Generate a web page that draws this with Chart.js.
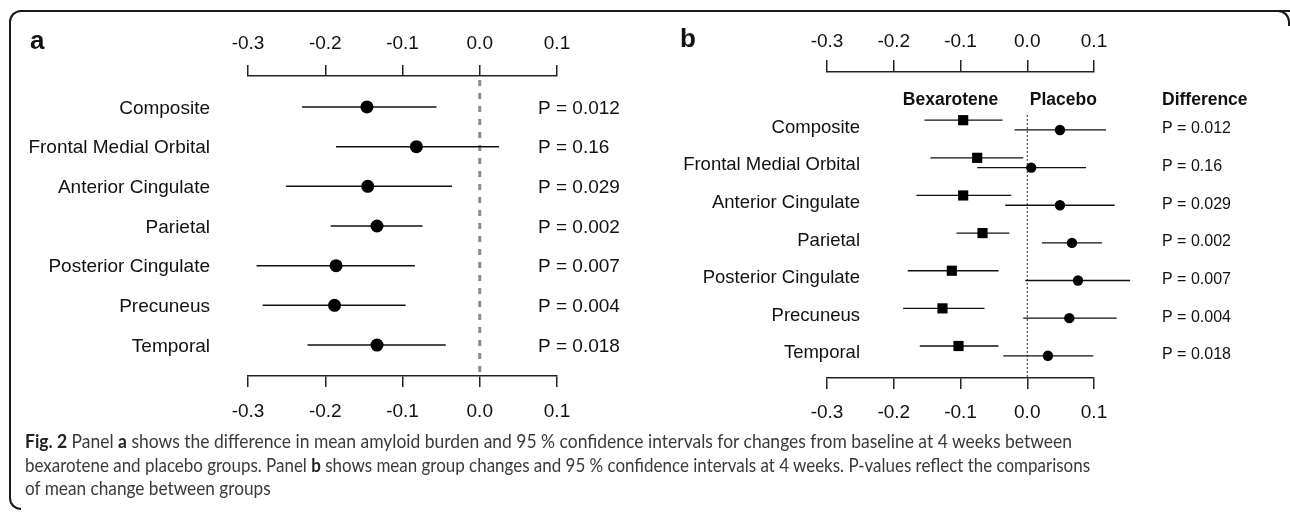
<!DOCTYPE html>
<html>
<head>
<meta charset="utf-8">
<script src="https://cdn.jsdelivr.net/npm/chart.js@4.4.1/dist/chart.umd.min.js"></script>
<style>
  body { margin: 0; width: 1290px; height: 513px; background: #fff; overflow: hidden; position: relative; }
  canvas { position: absolute; top: 0; }
  #chartA { left: 0; }
  #chartB { left: 640px; }
  .edge { position: absolute; border-color: #1a1a1a; border-style: solid; border-width: 0; }
  #frame { left: 9px; top: 10px; width: 1300px; height: 486px; border-left-width: 2px; border-top-width: 2px; border-top-left-radius: 12px; }
  #cornerTR { left: 1276px; top: 10px; width: 12px; height: 14px; border-top-width: 2px; border-right-width: 2px; border-top-right-radius: 12px; }
  #cornerBL { left: 9px; top: 494px; width: 10px; height: 14px; border-left-width: 2px; border-bottom-width: 2px; border-bottom-left-radius: 12px; }
  #caption { position: absolute; left: 25px; top: 429px; z-index: 2; font-family: Lato, "Open Sans", sans-serif; font-size: 19px; line-height: 23.5px; color: #3a3a3a; }
  #caption .ln { display: inline-block; white-space: nowrap; transform-origin: 0 50%; }
  #caption b { color: #222; }
</style>
</head>
<body>
<div class="edge" id="frame"></div>
<div class="edge" id="cornerTR"></div>
<div class="edge" id="cornerBL"></div>
<canvas id="chartA" width="640" height="440"></canvas>
<canvas id="chartB" width="650" height="440"></canvas>
<div id="caption">
  <span class="ln"><b>Fig. 2</b> Panel <b>a</b> shows the difference in mean amyloid burden and 95 % confidence intervals for changes from baseline at 4 weeks between</span><br>
  <span class="ln">bexarotene and placebo groups. Panel <b>b</b> shows mean group changes and 95 % confidence intervals at 4 weeks. P-values reflect the comparisons</span><br>
  <span class="ln">of mean change between groups</span>
</div>
<script>
const FONT = '"Liberation Sans", Arial, sans-serif';

const regions = ["Composite", "Frontal Medial Orbital", "Anterior Cingulate", "Parietal", "Posterior Cingulate", "Precuneus", "Temporal"];
const pValues = ["P = 0.012", "P = 0.16", "P = 0.029", "P = 0.002", "P = 0.007", "P = 0.004", "P = 0.018"];
const xTicks = [-0.3, -0.2, -0.1, 0.0, 0.1];

// panel a: difference bexarotene - placebo
const diffMean = [-0.146, -0.082, -0.145, -0.133, -0.186, -0.188, -0.133];
const diffLow = [-0.230, -0.186, -0.251, -0.193, -0.289, -0.281, -0.223];
const diffHigh = [-0.056, 0.025, -0.036, -0.074, -0.084, -0.096, -0.044];

// panel b: group means
const bexMean = [-0.096, -0.075, -0.096, -0.067, -0.113, -0.127, -0.103];
const bexLow = [-0.154, -0.145, -0.166, -0.106, -0.179, -0.186, -0.161];
const bexHigh = [-0.037, -0.006, -0.024, -0.027, -0.043, -0.064, -0.043];
const plaMean = [0.049, 0.006, 0.049, 0.067, 0.076, 0.063, 0.031];
const plaLow = [-0.019, -0.075, -0.033, 0.022, -0.003, -0.006, -0.036];
const plaHigh = [0.118, 0.088, 0.131, 0.112, 0.154, 0.134, 0.099];

const groupHeaders = ["Bexarotene", "Placebo"];
const groupHeaderX = [-0.115, 0.054];

function xAxis(position, tickLength, padding) {
    return {
        type: "linear",
        position: position,
        min: -0.3,
        max: 0.1,
        afterBuildTicks: s => { s.ticks = xTicks.map(v => ({ value: v })); },
        // tall enough so the labels are not clipped by the axis box
        afterFit: s => { s.height = 50; },
        grid: { display: true, drawOnChartArea: false, drawTicks: true, tickLength: tickLength, color: "#222", lineWidth: 1.5 },
        border: { display: true, color: "#222", width: 1.5 },
        ticks: {
            padding: padding,
            color: "#111",
            autoSkip: false,
            maxRotation: 0,
            font: { family: FONT, size: 19 },
            callback: v => (Math.abs(v) < 1e-9 ? 0 : v).toFixed(1)
        }
    };
}

function intervals(low, high, offset, width) {
    return low.map((lo, i) => ({
        data: [{ x: lo, y: i + offset }, { x: high[i], y: i + offset }],
        showLine: true,
        borderColor: "#111",
        borderWidth: width,
        pointRadius: 0,
        clip: false
    }));
}

const panelA = {
    id: "panelA",
    afterDraw(chart) {
        const { ctx, chartArea, scales: { y } } = chart;
        ctx.save();
        ctx.fillStyle = "#111";
        ctx.textBaseline = "middle";
        ctx.font = "19px " + FONT;
        regions.forEach((r, i) => {
            const py = y.getPixelForValue(i) + 1.5;
            ctx.textAlign = "right";
            ctx.fillText(r, chartArea.left - 38, py);
            ctx.textAlign = "left";
            ctx.fillText(pValues[i], chartArea.right - 19, py);
        });
        ctx.textAlign = "left";
        ctx.font = "bold 26px " + FONT;
        ctx.fillText("a", 30, 42);
        ctx.restore();
    }
};

const panelB = {
    id: "panelB",
    afterDraw(chart) {
        const { ctx, chartArea, scales: { x, y } } = chart;
        ctx.save();
        ctx.fillStyle = "#111";
        ctx.textBaseline = "middle";
        ctx.font = "18.5px " + FONT;
        ctx.textAlign = "right";
        regions.forEach((r, i) => ctx.fillText(r, chartArea.left + 33, y.getPixelForValue(i) + 2.5));
        ctx.font = "16px " + FONT;
        ctx.textAlign = "left";
        pValues.forEach((p, i) => ctx.fillText(p, chartArea.right + 68, y.getPixelForValue(i) + 4));
        ctx.font = "bold 17.5px " + FONT;
        ctx.textAlign = "center";
        const hy = y.getPixelForValue(-0.69) + 1;
        groupHeaders.forEach((h, i) => ctx.fillText(h, x.getPixelForValue(groupHeaderX[i]), hy));
        ctx.textAlign = "left";
        ctx.fillText("Difference", chartArea.right + 68, hy);
        ctx.font = "bold 26px " + FONT;
        ctx.fillText("b", 40, 40);
        ctx.restore();
    }
};

new Chart(document.getElementById("chartA"), {
    type: "scatter",
    data: {
        datasets: [
            {
                data: diffMean.map((v, i) => ({ x: v, y: i })),
                pointStyle: "circle",
                pointRadius: 6.5,
                backgroundColor: "#000",
                borderColor: "#000",
                borderWidth: 0,
                clip: false
            },
            ...intervals(diffLow, diffHigh, 0, 1.5),
            {
                data: [{ x: 0, y: -0.68 }, { x: 0, y: 6.78 }],
                showLine: true,
                borderColor: "#8a8a8a",
                borderWidth: 3,
                borderDash: [6, 7],
                pointRadius: 0,
                clip: false
            }
        ]
    },
    options: {
        responsive: false,
        animation: false,
        events: [],
        layout: { padding: { left: 248, right: 83, top: 26, bottom: 14 } },
        plugins: { legend: { display: false }, tooltip: { enabled: false } },
        scales: {
            x: xAxis("top", 11, 9.5),
            x2: xAxis("bottom", 11, 13),
            y: { type: "linear", min: -0.78, max: 6.78, reverse: true, display: false }
        }
    },
    plugins: [panelA]
});

new Chart(document.getElementById("chartB"), {
    type: "scatter",
    data: {
        datasets: [
            {
                data: bexMean.map((v, i) => ({ x: v, y: i - 0.13 })),
                pointStyle: "rect",
                pointRadius: 7.2,
                backgroundColor: "#000",
                borderColor: "#000",
                borderWidth: 0,
                clip: false
            },
            {
                data: plaMean.map((v, i) => ({ x: v, y: i + 0.13 })),
                pointStyle: "circle",
                pointRadius: 5.2,
                backgroundColor: "#000",
                borderColor: "#000",
                borderWidth: 0,
                clip: false
            },
            ...intervals(bexLow, bexHigh, -0.13, 1.3),
            ...intervals(plaLow, plaHigh, 0.13, 1.3),
            {
                data: [{ x: 0, y: -0.27 }, { x: 0, y: 6.72 }],
                showLine: true,
                borderColor: "#222",
                borderWidth: 1,
                borderDash: [2, 2],
                pointRadius: 0,
                clip: false
            }
        ]
    },
    options: {
        responsive: false,
        animation: false,
        events: [],
        layout: { padding: { left: 187, right: 196, top: 22, bottom: 12 } },
        plugins: { legend: { display: false }, tooltip: { enabled: false } },
        scales: {
            x: xAxis("top", 12, 7),
            x2: xAxis("bottom", 11, 12.6),
            y: { type: "linear", min: -1.41, max: 6.72, reverse: true, display: false }
        }
    },
    plugins: [panelB]
});

// caption: the two full lines are squeezed to their width in the figure,
// the short last line takes the mean of those two squeezes
const fullLineWidths = [1047, 1065];
const lines = document.querySelectorAll("#caption .ln");
const squeezes = fullLineWidths.map((w, i) => w / lines[i].getBoundingClientRect().width);
squeezes.push((squeezes[0] + squeezes[1]) / 2);
lines.forEach((el, i) => { el.style.transform = "scaleX(" + squeezes[i] + ")"; });
</script>
</body>
</html>
